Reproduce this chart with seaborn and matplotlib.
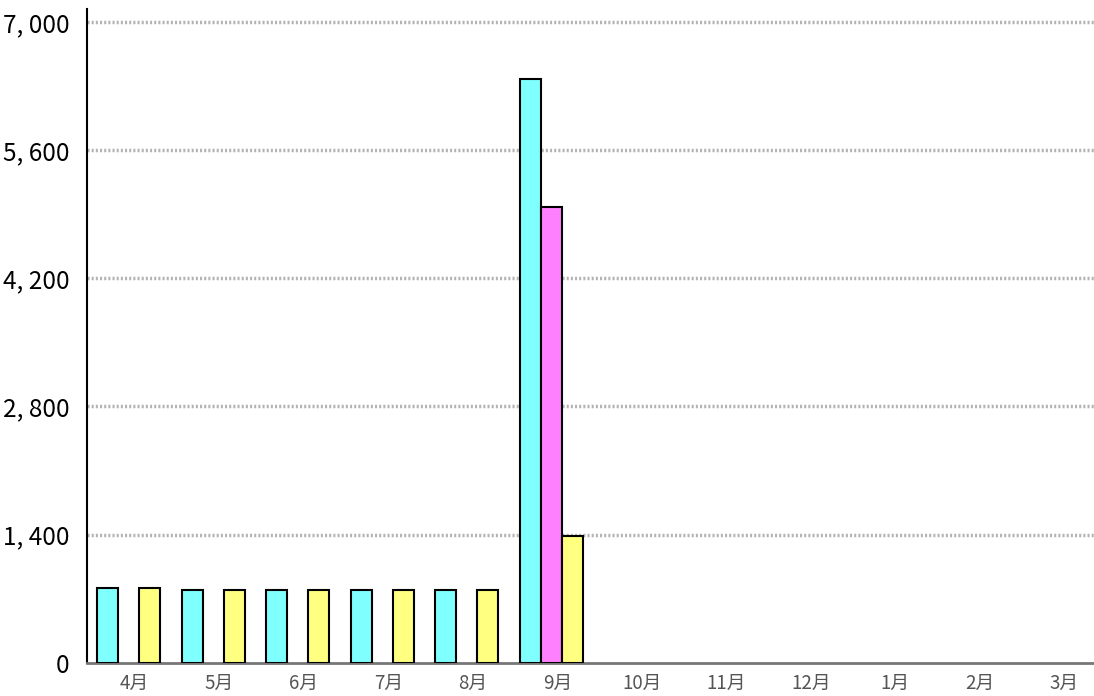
"""Monthly bar chart (3 series, Apr-Mar fiscal year)."""

import matplotlib
matplotlib.use("Agg")
import matplotlib.pyplot as plt
import matplotlib.transforms as mtransforms
import numpy as np
import pandas as pd
import seaborn as sns

months = ["4月", "5月", "6月", "7月", "8月", "9月",
          "10月", "11月", "12月", "1月", "2月", "3月"]
series_names = ["系列1", "系列2", "系列3"]
nan = np.nan
series1 = [820, 795, 795, 795, 795, 6380, nan, nan, nan, nan, nan, nan]
series2 = [nan, nan, nan, nan, nan, 4980, nan, nan, nan, nan, nan, nan]
series3 = [820, 795, 795, 795, 795, 1390, nan, nan, nan, nan, nan, nan]
colors = ["#80FFFF", "#FF80FF", "#FFFF80"]
yticks = [0, 1400, 2800, 4200, 5600, 7000]


def main():
    df = pd.DataFrame({
        "month": months * 3,
        "series": np.repeat(series_names, len(months)),
        "value": series1 + series2 + series3,
    })

    sns.set_style("white")
    plt.rcParams["font.family"] = ["Noto Sans CJK JP", "DejaVu Sans"]

    fig = plt.figure(figsize=(10.94, 6.96), dpi=100)
    ax = fig.add_axes([86.5 / 1094, 0.0478, 1014 / 1094, 0.987 - 0.0478])

    sns.barplot(data=df, x="month", y="value", hue="series", order=months,
                hue_order=series_names, palette=colors, saturation=1,
                width=0.74, edgecolor="black", linewidth=1.5, legend=False,
                ax=ax, zorder=3)

    ax.set_xlim(-0.5, 11.5)
    ax.set_ylim(0, 7142)
    ax.set_yticks(yticks)
    ax.set_yticklabels([f"{v:,}".replace(",", ", ") for v in yticks],
                       fontsize=17.5, color="black")
    ax.tick_params(axis="x", labelsize=13.5, labelcolor="#555555",
                   length=0, pad=7)
    ax.tick_params(axis="y", length=0, pad=12)
    ax.set_xlabel("")
    ax.set_ylabel("")

    # month labels sit a little right of the group centre
    shift = mtransforms.ScaledTranslation(6 / 100, 0, fig.dpi_scale_trans)
    for lbl in ax.get_xticklabels():
        lbl.set_transform(lbl.get_transform() + shift)

    for v in yticks[1:]:
        ax.axhline(v, color="#b4b4b4", linestyle=(0, (0.6, 0.6)),
                   linewidth=2.5, zorder=1)

    for side in ["top", "right"]:
        ax.spines[side].set_visible(False)
    ax.spines["left"].set_color("black")
    ax.spines["left"].set_linewidth(1.5)
    ax.spines["bottom"].set_color("#777777")
    ax.spines["bottom"].set_linewidth(2)

    fig.savefig("out.png", dpi=100)
    plt.close(fig)


if __name__ == "__main__":
    main()
